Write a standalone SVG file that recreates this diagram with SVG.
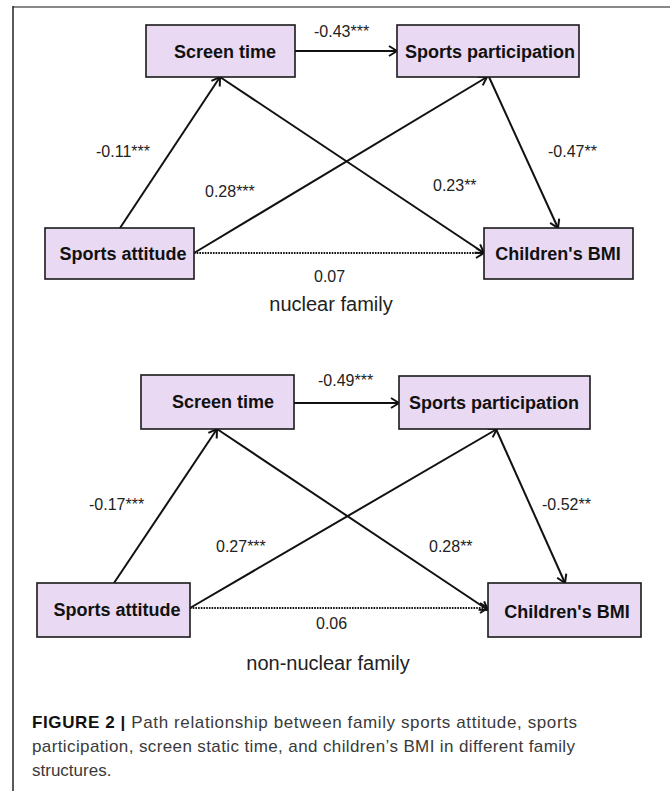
<svg xmlns="http://www.w3.org/2000/svg" width="670" height="791" viewBox="0 0 670 791">
<style>
.box{fill:#EAD9F2;stroke:#1a1a1a;stroke-width:1.6}
.nt{font-family:"Liberation Sans",Arial,sans-serif;font-size:18px;font-weight:bold;fill:#111;text-anchor:middle}
.lb{font-family:"Liberation Sans",Arial,sans-serif;font-size:16px;fill:#222}
.ti{font-family:"Liberation Sans",Arial,sans-serif;font-size:20px;fill:#222;text-anchor:middle}
.cap{font-family:"Liberation Sans",Arial,sans-serif;font-size:17px;fill:#3a3a3a}
.ln{stroke:#111;stroke-width:2;fill:none;marker-end:url(#ah)}
.dot{stroke:#111;stroke-width:2.2;fill:none;stroke-dasharray:1.6 1.1;marker-end:url(#ah)}
</style>
<defs>
<marker id="ah" markerUnits="userSpaceOnUse" viewBox="0 0 10 12" refX="9" refY="6" markerWidth="10" markerHeight="12" orient="auto">
<path d="M1,1 L9,6 L1,11" fill="none" stroke="#111" stroke-width="2"/>
</marker>
</defs>
<rect width="670" height="791" fill="#fff"/>
<g id="frame">
<line x1="13" y1="7" x2="670" y2="7" stroke="#888" stroke-width="2"/>
<line x1="13" y1="6" x2="13" y2="791" stroke="#222" stroke-width="1.5"/>
</g>
<g id="connectors">
<line class="ln" x1="295" y1="51" x2="397" y2="51"/>
<line class="ln" x1="120" y1="228" x2="220" y2="77"/>
<line class="ln" x1="194" y1="253" x2="487" y2="77"/>
<line class="ln" x1="220" y1="77" x2="484" y2="253"/>
<line class="ln" x1="489" y1="77" x2="558" y2="228"/>
<line class="dot" x1="194" y1="253" x2="484" y2="253"/>
<line class="ln" x1="294" y1="403" x2="399" y2="403"/>
<line class="ln" x1="114" y1="583" x2="217" y2="429"/>
<line class="ln" x1="190" y1="608" x2="497" y2="429"/>
<line class="ln" x1="217" y1="429" x2="488" y2="610"/>
<line class="ln" x1="496" y1="429" x2="565" y2="583"/>
<line class="dot" x1="190" y1="608" x2="488" y2="608"/>
</g>
<g id="n1-screen"><rect class="box" x="146" y="25" width="149" height="52"/><text class="nt" x="225" y="58">Screen time</text></g>
<g id="n1-sport"><rect class="box" x="397" y="25" width="182" height="52"/><text class="nt" x="490" y="58">Sports participation</text></g>
<g id="n1-att"><rect class="box" x="45" y="228" width="149" height="51"/><text class="nt" x="123" y="260">Sports attitude</text></g>
<g id="n1-bmi"><rect class="box" x="484" y="228" width="149" height="51"/><text class="nt" x="558" y="260">Children's BMI</text></g>
<g id="n2-screen"><rect class="box" x="141" y="375" width="153" height="54"/><text class="nt" x="223" y="408">Screen time</text></g>
<g id="n2-sport"><rect class="box" x="399" y="376" width="191" height="53"/><text class="nt" x="494" y="409">Sports participation</text></g>
<g id="n2-att"><rect class="box" x="37" y="583" width="153" height="54"/><text class="nt" x="117" y="616">Sports attitude</text></g>
<g id="n2-bmi"><rect class="box" x="488" y="583" width="153" height="54"/><text class="nt" x="567" y="618">Children's BMI</text></g>
<g id="labels">
<text class="lb" x="314" y="37">-0.43***</text>
<text class="lb" x="96" y="157">-0.11***</text>
<text class="lb" x="205" y="197">0.28***</text>
<text class="lb" x="433" y="191">0.23**</text>
<text class="lb" x="548" y="157">-0.47**</text>
<text class="lb" x="314" y="282">0.07</text>
<text class="ti" x="331" y="311">nuclear family</text>
<text class="lb" x="318" y="386">-0.49***</text>
<text class="lb" x="89" y="510">-0.17***</text>
<text class="lb" x="216" y="552">0.27***</text>
<text class="lb" x="429" y="552">0.28**</text>
<text class="lb" x="542" y="510">-0.52**</text>
<text class="lb" x="316" y="629">0.06</text>
<text class="ti" x="328" y="670">non-nuclear family</text>
</g>
<g id="caption">
<text class="cap" x="32" y="728" textLength="545" lengthAdjust="spacing"><tspan font-weight="bold" fill="#111">FIGURE 2 |</tspan> Path relationship between family sports attitude, sports</text>
<text class="cap" x="32" y="752" textLength="543" lengthAdjust="spacing">participation, screen static time, and children’s BMI in different family</text>
<text class="cap" x="32" y="776">structures.</text>
</g>
</svg>
